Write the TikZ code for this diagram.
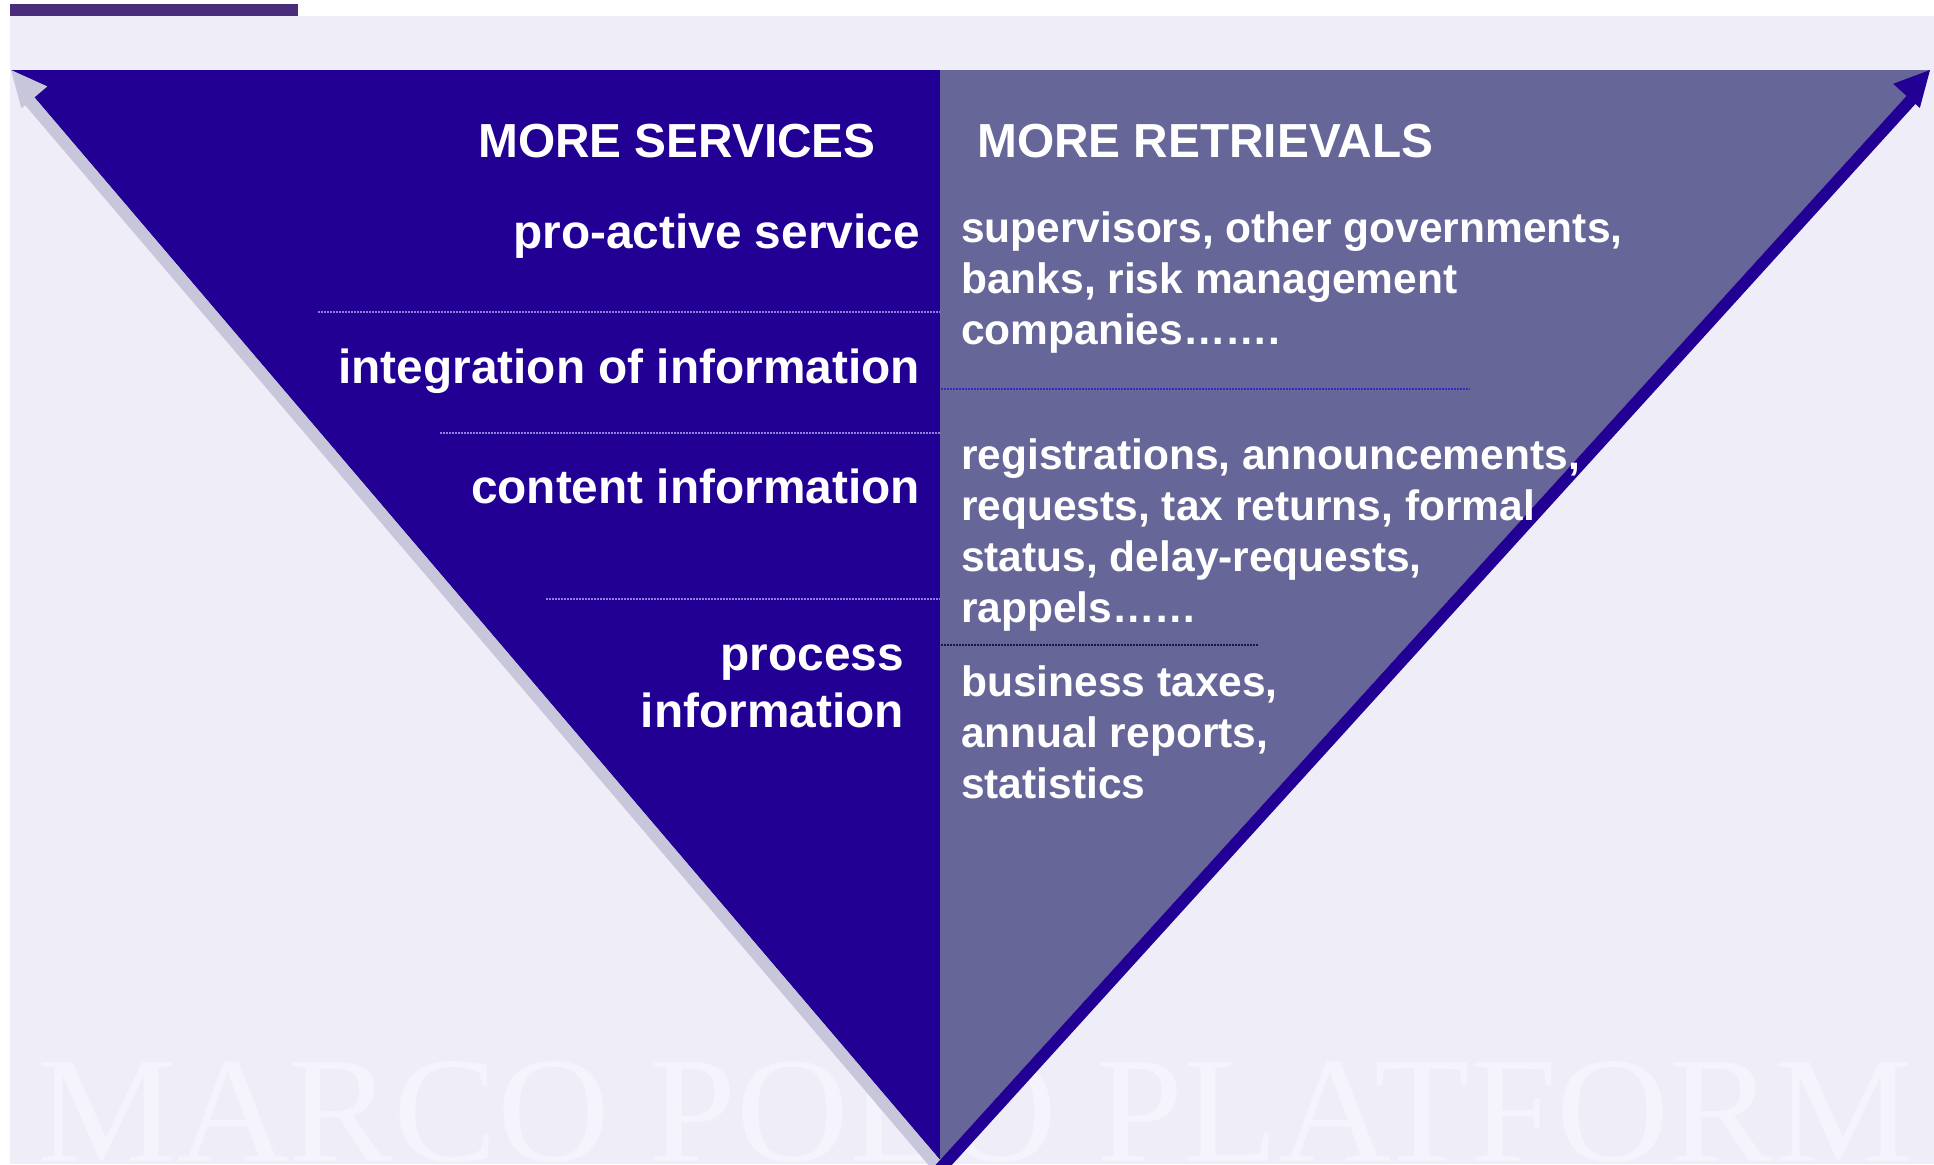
\documentclass[tikz,border=0pt]{standalone}
\usepackage{fontspec}
\setmainfont{Liberation Sans}
\newfontfamily\wmfont{Liberation Serif}
\definecolor{darkv}{RGB}{34,0,148}
\definecolor{greyv}{RGB}{102,102,153}
\definecolor{bgl}{RGB}{239,237,248}
\definecolor{topbar}{RGB}{74,44,122}
\definecolor{lgrey}{RGB}{200,198,218}
\definecolor{wmcol}{RGB}{245,244,252}
\definecolor{dotL}{RGB}{140,130,220}
\definecolor{dotR}{RGB}{60,40,190}
\definecolor{dotK}{RGB}{30,20,70}
\tikzset{
  lbl/.style={text=white, font=\bfseries\fontsize{47.8}{57}\selectfont, inner sep=0pt},
  rtxt/.style={text=white, font=\bfseries\fontsize{42.5}{51}\selectfont, inner sep=0pt, align=left},
  sepline/.style={dash pattern=on 1.5pt off 1.5pt, line width=1.5pt},
  wm/.style={text=wmcol, font=\wmfont\fontsize{151}{151}\selectfont, inner sep=0pt, xscale=1.035}
}
\begin{document}
\begin{tikzpicture}[x=1pt,y=-1pt]
\useasboundingbox (0,0) rectangle (1934,1164);
\fill[white] (0,0) rectangle (1934,1164);
\fill[bgl] (10,16) rectangle (1934,1164);
\fill[topbar] (10,4) rectangle (298,16);
% watermark
\node[wm, anchor=base west] (wmark) at (37,1161) {MARCO POLO PLATFORM};
% triangle
\coordinate (C1) at (11,70);
\coordinate (C2) at (1930,70);
\coordinate (A) at (940,1160);
\coordinate (M) at (940,70);
\fill[darkv] (C1) -- (M) -- (A) -- cycle;
\fill[greyv] (M) -- (C2) -- (A) -- cycle;
% separators
\coordinate (s1a) at (318,312); \coordinate (s1b) at (940,312);
\coordinate (s2a) at (440,433); \coordinate (s2b) at (940,433);
\coordinate (s3a) at (546,599); \coordinate (s3b) at (940,599);
\coordinate (s4a) at (941,389); \coordinate (s4b) at (1470,389);
\coordinate (s5a) at (941,645); \coordinate (s5b) at (1258,645);
\draw[sepline, dotL] (s1a) -- (s1b);
\draw[sepline, dotL] (s2a) -- (s2b);
\draw[sepline, dotL] (s3a) -- (s3b);
\draw[sepline, dotR] (s4a) -- (s4b);
\draw[sepline, dotK] (s5a) -- (s5b);
% left arrow (light)
\fill[lgrey] (30.5,92.8) -- (21.3,100.6) -- (943.8,1183) -- (953,1175.2) -- cycle;
\fill[lgrey] (C1) -- (21.4,108.4) -- (47.3,86.4) -- cycle;
% right arrow (dark)
\fill[darkv] (1909.8,92.2) -- (1918.7,100.3) -- (935.5,1182.9) -- (926.6,1174.8) -- cycle;
\fill[darkv] (C2) -- (1919.8,108) -- (1893.2,83.8) -- cycle;
% texts
\node[lbl, anchor=base west] (ms) at (478,157) {MORE SERVICES};
\node[lbl, anchor=base west] (mr) at (977,157) {MORE RETRIEVALS};
\node[lbl, anchor=base east] (pas) at (920,248) {pro-active service};
\node[lbl, anchor=base east] (ioi) at (920,383) {integration of information};
\node[lbl, anchor=base east] (ci) at (920,503) {content information};
\node[lbl, anchor=base east, align=right] (pi) at (904,727) {process\\information};
\node[rtxt, anchor=base west] (r1) at (961,344) {supervisors, other governments,\\banks, risk management\\companies…….};
\node[rtxt, anchor=base west] (r2) at (961,622) {registrations, announcements,\\requests, tax returns, formal\\status, delay-requests,\\rappels……};
\node[rtxt, anchor=base west] (r3) at (961,798) {business taxes,\\annual reports,\\statistics};
\end{tikzpicture}
\end{document}
